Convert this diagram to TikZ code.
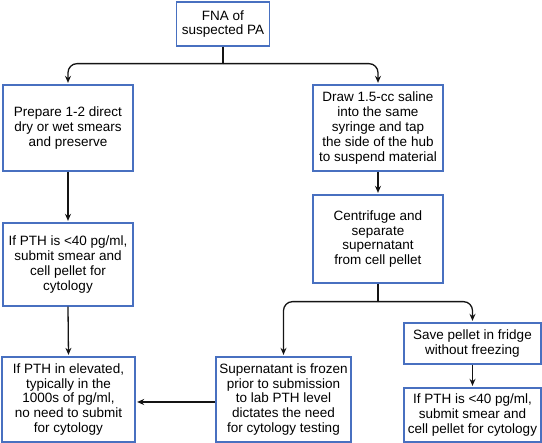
\documentclass[tikz,border=0pt]{standalone}
\usepackage{fontspec}
\setmainfont{Liberation Sans}
\usetikzlibrary{positioning, calc, arrows.meta}
\definecolor{boxBlue}{RGB}{72,112,192}
\definecolor{inkBlack}{RGB}{20,20,20}

\begin{document}
\begin{tikzpicture}[x=1pt, y=-1pt,
    stepbox/.style={draw=boxBlue, line width=1.3pt, fill=white, align=center,
      inner sep=0pt, font=\fontsize{13.5}{14.8}\selectfont},
    flow/.style={draw=inkBlack, line width=1.3pt, -{Stealth[length=7pt, width=6pt]}, shorten >=1.5pt},
    trunk/.style={draw=inkBlack, line width=1.3pt}]
  \useasboundingbox (0,0) rectangle (542,443);
  \node[stepbox, minimum width=93pt, minimum height=44pt] (fna) at (223,24) {FNA of\\suspected PA};
  \node[stepbox, minimum width=130pt, minimum height=86pt] (prep) at (68,128) {Prepare 1-2 direct\\dry or wet smears\\and preserve};
  \node[stepbox, minimum width=130pt, minimum height=86pt] (draw) at (378,128) {Draw 1.5-cc saline\\into the same\\syringe and tap\\the side of the hub\\to suspend material};
  \node[stepbox, minimum width=130pt, minimum height=88pt] (cent) at (378,239) {Centrifuge and\\separate\\supernatant\\from cell pellet};
  \node[stepbox, minimum width=130pt, minimum height=83pt] (lowl) at (68,264.5) {If PTH is <40 pg/ml,\\submit smear and\\cell pellet for\\cytology};
  \node[stepbox, minimum width=133pt, minimum height=85pt] (elev) at (68.5,399.5) {If PTH in elevated,\\typically in the\\1000s of pg/ml,\\no need to submit\\for cytology};
  \node[stepbox, minimum width=135pt, minimum height=85pt] (super) at (283.5,399.5) {Supernatant is frozen\\prior to submission\\to lab PTH level\\dictates the need\\for cytology testing};
  \node[stepbox, minimum width=137pt, minimum height=41pt] (save) at (472.5,343.5) {Save pellet in fridge\\without freezing};
  \node[stepbox, minimum width=137pt, minimum height=54pt] (lowr) at (472.5,415) {If PTH is <40 pg/ml,\\submit smear and\\cell pellet for cytology};

  \coordinate (split1) at ($(fna.south)+(0,17)$);
  \coordinate (split2) at ($(cent.south)+(0,18)$);
  \draw[trunk] (fna.south) -- (split1);
  \draw[flow, rounded corners=9pt] (split1) -| (prep.north);
  \draw[flow, rounded corners=9pt] (split1) -| (draw.north);
  \draw[flow] (prep.south) -- (lowl.north);
  \draw[flow] (draw.south) -- (cent.north);
  \draw[flow] (lowl.south) -- (elev.north);
  \draw[trunk] (cent.south) -- (split2);
  \draw[flow, rounded corners=9pt] (split2) -| (super.north);
  \draw[flow, rounded corners=9pt] (split2) -| (save.north);
  \draw[flow] (save.south) -- (lowr.north);
  \draw[flow] (super.west |- 0,402) -- (elev.east |- 0,402);
\end{tikzpicture}
\end{document}
